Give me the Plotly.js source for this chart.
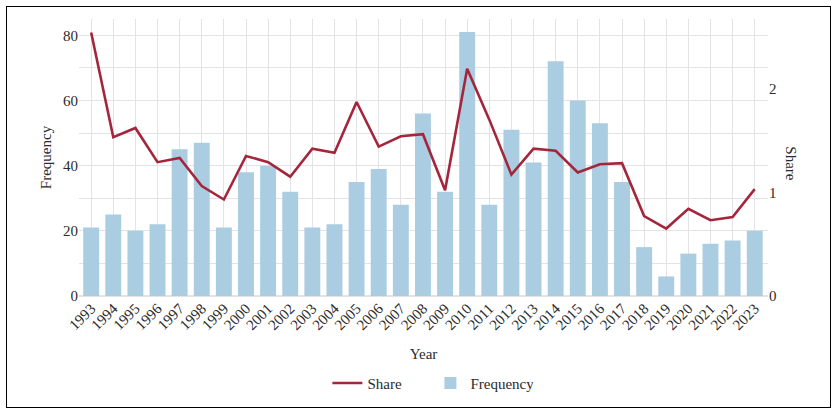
<!DOCTYPE html>
<html>
<head>
<meta charset="utf-8">
<script src="https://cdn.plot.ly/plotly-3.0.1.min.js"></script>
<style>
  html, body { margin: 0; padding: 0; background: #fff; }
  #wrap { position: relative; width: 839px; height: 414px; }
  #chart { width: 839px; height: 414px; }
  #frame { position: absolute; left: 6px; top: 6px; width: 823px; height: 400px;
           border: 1.5px solid #000; pointer-events: none; }
</style>
</head>
<body>
<div id="wrap">
  <div id="chart"></div>
  <div id="frame"></div>
</div>
<script>
// years on the x axis
const years = ['1993','1994','1995','1996','1997','1998','1999','2000','2001','2002',
  '2003','2004','2005','2006','2007','2008','2009','2010','2011','2012','2013',
  '2014','2015','2016','2017','2018','2019','2020','2021','2022','2023'];

// bar heights (left axis)
const frequency = [21, 25, 20, 22, 45, 47, 21, 38, 40, 32, 21, 22, 35, 39, 28, 56,
  32, 81, 28, 51, 41, 72, 60, 53, 35, 15, 6, 13, 16, 17, 20];

// line values (right axis)
const share = [2.54, 1.53, 1.62, 1.29, 1.33, 1.06, 0.93, 1.35, 1.29, 1.15, 1.42,
  1.38, 1.87, 1.44, 1.54, 1.56, 1.02, 2.19, 1.70, 1.17, 1.42, 1.40, 1.19, 1.27,
  1.28, 0.77, 0.65, 0.84, 0.73, 0.76, 1.03];

const freqTicks = [0, 10, 20, 30, 40, 50, 60, 70, 80];
const freqTickText = ['0', '', '20', '', '40', '', '60', '', '80'];
const shareTicks = [0, 1, 2];

const FONT = "'Liberation Serif', 'Times New Roman', Times, serif";
const TXT = '#2b2b2b';
const GRID = '#e3e3e6';

const data = [
  {
    type: 'scatter', mode: 'lines', name: 'Share',
    x: years, y: share, yaxis: 'y2',
    line: { color: '#a4263c', width: 2.6 }
  },
  {
    type: 'bar', name: 'Frequency',
    x: years, y: frequency,
    marker: { color: '#abcde1' }
  }
];

const layout = {
  width: 839, height: 414,
  margin: { l: 79, r: 71, t: 19, b: 118 },
  paper_bgcolor: '#fff', plot_bgcolor: '#fff',
  font: { family: FONT, color: TXT, size: 15 },
  bargap: 0.28,
  showlegend: true,
  legend: {
    orientation: 'h', x: 0.51, xanchor: 'center', y: -0.315, yanchor: 'middle',
    font: { family: FONT, size: 15, color: TXT }, itemwidth: 30, entrywidth: 58
  },
  xaxis: {
    type: 'category', range: [-0.55, 30.6], automargin: false,
    showgrid: true, gridcolor: GRID, gridwidth: 1,
    tickangle: -45, tickfont: { family: FONT, size: 15, color: TXT },
    ticks: '', showline: false,
    title: { text: 'Year', font: { family: FONT, size: 15, color: TXT }, standoff: 16 }
  },
  yaxis: {
    range: [0, 85], tickvals: freqTicks, ticktext: freqTickText, automargin: false,
    showgrid: true, gridcolor: GRID, gridwidth: 1,
    zeroline: true, zerolinecolor: GRID, zerolinewidth: 1.5,
    tickfont: { family: FONT, size: 15, color: TXT }, ticks: '',
    title: { text: 'Frequency', font: { family: FONT, size: 15, color: TXT }, standoff: 7 }
  },
  yaxis2: {
    overlaying: 'y', side: 'right', range: [0, 2.67], automargin: false,
    tickvals: shareTicks, showgrid: false, zeroline: false,
    tickfont: { family: FONT, size: 15, color: TXT }, ticks: ''
  },
  annotations: [
    {
      text: 'Share', xref: 'paper', yref: 'paper', x: 1.033, y: 0.48,
      showarrow: false, textangle: 90, xanchor: 'center', yanchor: 'middle',
      font: { family: FONT, size: 15, color: TXT }
    }
  ]
};

Plotly.newPlot('chart', data, layout, { displayModeBar: false, staticPlot: true });
</script>
</body>
</html>
